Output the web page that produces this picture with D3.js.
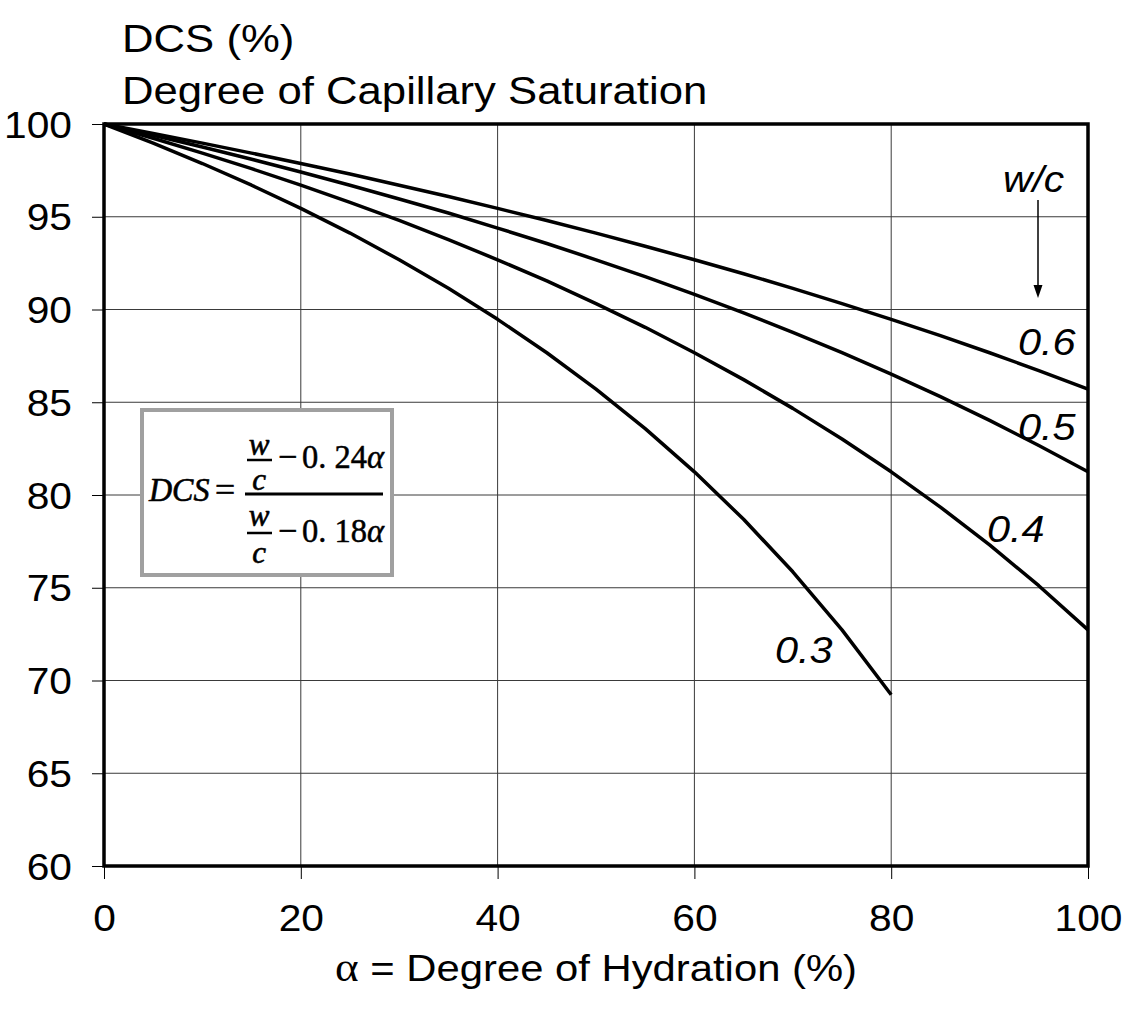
<!DOCTYPE html>
<html><head><meta charset="utf-8">
<script src="https://cdn.jsdelivr.net/npm/d3@7"></script>
<style>body{margin:0;background:#fff}</style>
</head><body>
<svg id="chart" width="1122" height="1014"></svg>
<script>
// ---- data ----
const hydration = [0,5,10,15,20,25,30,35,40,45,50,55,60,65,70,75,80,85,90,95,100];
const dcs03 = [100,98.97,97.87,96.70,95.45,94.12,92.68,91.14,89.47,87.67,85.71,83.58,81.25,78.69,75.86,72.73,69.23];
const dcs04 = [100,99.23,98.43,97.59,96.70,95.77,94.80,93.77,92.68,91.54,90.32,89.04,87.67,86.22,84.67,83.02,81.25,79.35,77.31,75.11,72.73];
const dcs05 = [100,99.39,98.76,98.10,97.41,96.70,95.96,95.20,94.39,93.56,92.68,91.77,90.82,89.82,88.77,87.67,86.52,85.30,84.02,82.67,81.25];
const dcs06 = [100,99.49,98.97,98.43,97.87,97.30,96.70,96.09,95.45,94.80,94.12,93.41,92.68,91.93,91.14,90.32,89.47,88.59,87.67,86.71,85.71];
const seriesNames = ["0.3","0.4","0.5","0.6"];
const xTicks = [0,20,40,60,80,100];
const yTicks = [60,65,70,75,80,85,90,95,100];
const titleLines = ["DCS (%)","Degree of Capillary Saturation"];
const xTitle = "Degree of Hydration (%)";
const legendTitle = "w/c";

// ---- layout ----
const SX = 1.15;           // horizontal stretch of the original lettering
const FONT = "'Liberation Sans', Arial, sans-serif";
const SERIF = "'Liberation Serif', 'Times New Roman', serif";
const svg = d3.select("#chart");
const x = d3.scaleLinear().domain([0,100]).range([104,1088]);
const y = d3.scaleLinear().domain([60,100]).range([866,124]);

const series = [dcs03, dcs04, dcs05, dcs06].map((vals, i) => ({
  name: seriesNames[i],
  points: vals.map((v, j) => [hydration[j], v])
}));
const labelPos = { "0.3": [775,663], "0.4": [987,542], "0.5": [1018,440], "0.6": [1018,355] };

function stext(parent, px, py, str, size, opts = {}) {
  return parent.append("text")
    .attr("transform", `translate(${px},${py}) scale(${opts.sx || SX},1)`)
    .attr("font-family", opts.family || FONT)
    .attr("font-size", size)
    .attr("font-style", opts.italic ? "italic" : "normal")
    .attr("text-anchor", opts.anchor || "start")
    .attr("fill", "#000")
    .attr("stroke", opts.bold ? "#000" : null)
    .attr("stroke-width", opts.bold ? opts.bold : null)
    .text(str);
}

// grid
const grid = svg.append("g");
grid.selectAll("line.v").data(xTicks.filter(d => d > 0 && d < 100)).join("line")
  .attr("x1", d => x(d)).attr("x2", d => x(d)).attr("y1", y(100)).attr("y2", y(60))
  .attr("stroke", "#3a3a3a").attr("stroke-width", 1);
grid.selectAll("line.h").data(yTicks.filter(d => d > 60 && d < 100)).join("line")
  .attr("x1", x(0)).attr("x2", x(100)).attr("y1", d => y(d)).attr("y2", d => y(d))
  .attr("stroke", "#3a3a3a").attr("stroke-width", 1);

// axes
const yAxis = svg.append("g").attr("transform", `translate(${x(0)},0)`)
  .call(d3.axisLeft(y).tickValues(yTicks).tickSize(12).tickFormat(d3.format("d")));
yAxis.select(".domain").remove();
yAxis.selectAll("line").attr("stroke", "#000").attr("stroke-width", 1);
yAxis.selectAll("text").attr("x", null).attr("dy", null)
  .attr("transform", `translate(-32,13) scale(1.1,1)`)
  .attr("font-family", FONT).attr("font-size", 37).attr("fill", "#000").attr("text-anchor", "end");

const xAxis = svg.append("g").attr("transform", `translate(0,${y(60)})`)
  .call(d3.axisBottom(x).tickValues(xTicks).tickSize(13).tickFormat(d3.format("d")));
xAxis.select(".domain").remove();
xAxis.selectAll("line").attr("stroke", "#000").attr("stroke-width", 1);
xAxis.selectAll("text").attr("y", null).attr("dy", null)
  .attr("transform", `translate(0,65) scale(1.1,1)`)
  .attr("font-family", FONT).attr("font-size", 37).attr("fill", "#000").attr("text-anchor", "middle");

// curves
const line = d3.line().x(d => x(d[0])).y(d => y(d[1]));
svg.append("g").selectAll("path").data(series).join("path")
  .attr("d", d => line(d.points))
  .attr("fill", "none").attr("stroke", "#000").attr("stroke-width", 3.5)
  .attr("stroke-linejoin", "round");

// frame
svg.append("rect").attr("x", x(0)).attr("y", y(100))
  .attr("width", x(100) - x(0)).attr("height", y(60) - y(100))
  .attr("fill", "none").attr("stroke", "#000").attr("stroke-width", 3.5);

// series labels
series.forEach(s => {
  const p = labelPos[s.name];
  stext(svg, p[0], p[1], s.name, 37, { italic: true, sx: 1.12 });
});

// w/c + arrow
stext(svg, 1003, 192, legendTitle, 37, { italic: true, sx: 1.1 });
svg.append("line").attr("x1", 1038).attr("x2", 1038).attr("y1", 200).attr("y2", 288)
  .attr("stroke", "#000").attr("stroke-width", 1.5);
svg.append("path").attr("d", "M1033.5,285 L1042.5,285 L1038,298 Z").attr("fill", "#000");

// titles
stext(svg, 122, 52, titleLines[0], 38);
stext(svg, 122, 104, titleLines[1], 38);

// x axis title
const xt = svg.append("text")
  .attr("transform", `translate(596,981) scale(1.13,1)`)
  .attr("font-family", FONT).attr("font-size", 37).attr("text-anchor", "middle").attr("fill", "#000");
xt.append("tspan").attr("font-family", SERIF).attr("font-size", 40).text("α");
xt.append("tspan").text(" = " + xTitle);

// equation box
const eq = svg.append("g");
eq.append("rect").attr("x", 142).attr("y", 410).attr("width", 250).attr("height", 165)
  .attr("fill", "#fff").attr("stroke", "#a0a0a0").attr("stroke-width", 4);
stext(eq, 149, 501, "DCS", 33, { family: SERIF, italic: true, sx: 0.97, bold: 0.6 });
stext(eq, 215, 501, "=", 34, { family: SERIF, sx: 1.05, bold: 0.6 });
eq.append("line").attr("x1", 245).attr("x2", 383).attr("y1", 494).attr("y2", 494)
  .attr("stroke", "#000").attr("stroke-width", 3);
[[455, 460, 490, 468, "0. 24"], [526, 533, 563, 542, "0. 18"]].forEach(r => {
  stext(eq, 259, r[0], "w", 31, { family: SERIF, italic: true, anchor: "middle", sx: 1.0, bold: 0.6 });
  eq.append("line").attr("x1", 247).attr("x2", 272).attr("y1", r[1]).attr("y2", r[1])
    .attr("stroke", "#000").attr("stroke-width", 2.5);
  stext(eq, 259, r[2], "c", 31, { family: SERIF, italic: true, anchor: "middle", sx: 1.0, bold: 0.6 });
  stext(eq, 278, r[3], "−", 34, { family: SERIF, sx: 1.0, bold: 0.6 });
  const t = eq.append("text").attr("x", 302).attr("y", r[3])
    .attr("font-family", SERIF).attr("font-size", 33)
    .attr("stroke", "#000").attr("stroke-width", 0.5)
    .attr("textLength", 82).attr("lengthAdjust", "spacingAndGlyphs");
  t.append("tspan").text(r[4]);
  t.append("tspan").attr("font-style", "italic").text("α");
});
</script>
</body></html>
